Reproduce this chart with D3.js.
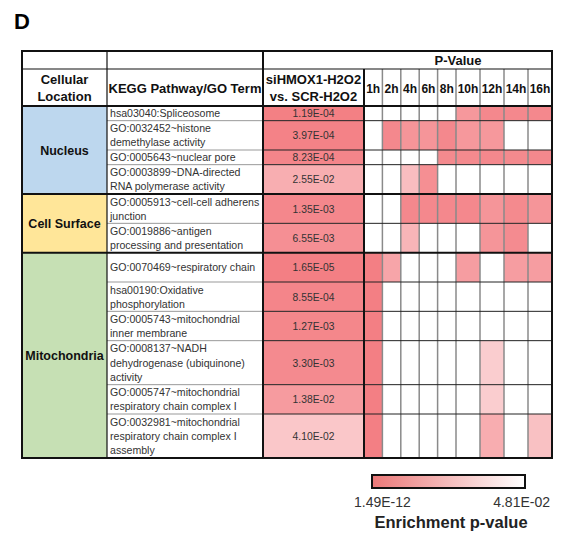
<!DOCTYPE html>
<html><head><meta charset="utf-8">
<script src="https://cdn.jsdelivr.net/npm/d3@7"></script>
<style>body{margin:0;background:#fff}svg{display:block;font-family:"Liberation Sans",Arial,sans-serif}</style>
</head><body><svg id="c" width="561" height="533"></svg>
<script>
// ---------- data ----------
const locations = ["Nucleus", "Cell Surface", "Mitochondria"];
const locationRows = [4, 2, 6];
const timePoints = ["1h","2h","4h","6h","8h","10h","12h","14h","16h"];
const terms = [
  ["hsa03040:Spliceosome"],
  ["GO:0032452~histone","demethylase activity"],
  ["GO:0005643~nuclear pore"],
  ["GO:0003899~DNA-directed","RNA polymerase activity"],
  ["GO:0005913~cell-cell adherens","junction"],
  ["GO:0019886~antigen","processing and presentation"],
  ["GO:0070469~respiratory chain"],
  ["hsa00190:Oxidative","phosphorylation"],
  ["GO:0005743~mitochondrial","inner membrane"],
  ["GO:0008137~NADH","dehydrogenase (ubiquinone)","activity"],
  ["GO:0005747~mitochondrial","respiratory chain complex I"],
  ["GO:0032981~mitochondrial","respiratory chain complex I","assembly"]
];
const siPValues = [1.19e-4, 3.97e-4, 8.23e-4, 2.55e-2, 1.35e-3, 6.55e-3, 1.65e-5, 8.55e-4, 1.27e-3, 3.30e-3, 1.38e-2, 4.10e-2];
const siLabels = ["1.19E-04","3.97E-04","8.23E-04","2.55E-02","1.35E-03","6.55E-03","1.65E-05","8.55E-04","1.27E-03","3.30E-03","1.38E-02","4.10E-02"];
// estimated p-values per time point (null = not enriched / white)
const timePValues = [
  [null,null,null,null,null,0.012,0.002,0.002,0.002],
  [null,0.002,0.010,0.010,0.002,0.012,0.012,null,null],
  [null,null,null,null,0.003,0.003,0.002,0.003,0.002],
  [null,null,0.035,0.006,null,null,null,null,null],
  [null,null,0.002,0.002,0.002,0.002,0.010,0.003,0.010],
  [null,null,0.030,null,null,null,0.010,0.004,null],
  [1e-8,0.020,null,null,null,0.015,null,0.015,0.015],
  [1e-9,null,null,null,null,null,null,null,null],
  [1e-8,null,null,null,null,null,null,null,null],
  [1e-7,null,null,null,null,null,0.045,null,null],
  [1e-7,null,null,null,null,null,0.045,null,null],
  [1e-6,null,null,null,null,null,0.025,null,0.037]
];
const legendMin = 1.49e-12, legendMax = 4.81e-2;
const legendLabels = ["1.49E-12","4.81E-02"];

// ---------- layout ----------
const svg = d3.select("#c");
const locColors = ["#bdd7ee","#ffe699","#c6e0b4"];
const rowUnits = [1,2,1,2,2,2,2,2,2,3,2,3];
const X0 = 22, X1 = 107, X2 = 263, X3 = 364;
const Y0 = 51, Y1 = 69, Y2 = 106, YEnd = 458;

const dark = "#f37c81";
const tScale = d3.scaleLinear().domain([legendMin, 1e-3, legendMax]).range([0.02, 0.08, 0.66]).clamp(true);
const mix = d3.interpolateRgb(dark, "#ffffff");
const color = p => p == null ? "#ffffff" : mix(tScale(p));

// time column edges
const tw = timePoints.map(t => t.length === 2 ? 18.4 : 24);
const tEdges = [X3]; tw.forEach(w => tEdges.push(tEdges[tEdges.length-1] + w));
const XEnd = tEdges[tEdges.length-1];

// row edges
const totalUnits = d3.sum(rowUnits);
const yU = d3.scaleLinear().domain([0,totalUnits]).range([Y2, YEnd]);
const rEdges = [0]; rowUnits.forEach(u => rEdges.push(rEdges[rEdges.length-1]+u));
const rowY = rEdges.map(e => yU(e));

// location section edges
const lEdges = [0]; locationRows.forEach(n => lEdges.push(lEdges[lEdges.length-1]+n));

const g = svg.append("g");

// location cells
locations.forEach((loc,i)=>{
  const ya = rowY[lEdges[i]], yb = rowY[lEdges[i+1]];
  g.append("rect").attr("x",X0).attr("y",ya).attr("width",X1-X0).attr("height",yb-ya).attr("fill",locColors[i]);
  g.append("text").attr("x",(X0+X1)/2).attr("y",(ya+yb)/2+4.5).attr("text-anchor","middle")
   .attr("font-weight","bold").attr("font-size",12.5).attr("fill","#111").text(loc);
});

// term cells and p cells
terms.forEach((lines,i)=>{
  const ya = rowY[i], yb = rowY[i+1], cy=(ya+yb)/2;
  const lh = 14.3;
  lines.forEach((l,j)=>{
    g.append("text").attr("x",X1+3).attr("y",cy + (j-(lines.length-1)/2)*lh + 4)
     .attr("font-size",10.6).attr("fill","#333").text(l);
  });
  g.append("rect").attr("x",X2).attr("y",ya).attr("width",X3-X2).attr("height",yb-ya).attr("fill",color(siPValues[i]));
  g.append("text").attr("x",(X2+X3)/2).attr("y",cy+4).attr("text-anchor","middle")
   .attr("font-size",10.3).attr("fill","#333").text(siLabels[i]);
  timePValues[i].forEach((p,k)=>{
    g.append("rect").attr("x",tEdges[k]).attr("y",ya).attr("width",tEdges[k+1]-tEdges[k]).attr("height",yb-ya).attr("fill",color(p));
  });
});

// header texts
const hdr = (x,y,t,fs)=>g.append("text").attr("x",x).attr("y",y).attr("text-anchor","middle")
  .attr("font-weight","bold").attr("font-size",fs||13).attr("fill","#111").text(t);
hdr((X3+XEnd)/2, 64.5, "P-Value");
hdr((X0+X1)/2, 84, "Cellular"); hdr((X0+X1)/2, 101, "Location");
hdr((X1+X2)/2, 92.5, "KEGG Pathway/GO Term");
hdr((X2+X3)/2, 84, "siHMOX1-H2O2"); hdr((X2+X3)/2, 101, "vs. SCR-H2O2");
timePoints.forEach((t,k)=>hdr((tEdges[k]+tEdges[k+1])/2, 92.5, t, 12));

// grid lines
const line=(x1,y1,x2,y2,c,w)=>g.append("line").attr("x1",x1).attr("y1",y1).attr("x2",x2).attr("y2",y2).attr("stroke",c).attr("stroke-width",w);
for(let k=1;k<tEdges.length-1;k++) line(tEdges[k],Y1,tEdges[k],YEnd,"#8a8a8a",1.5);
for(let i=1;i<terms.length;i++){
  if(lEdges.includes(i)) continue;
  line(X1,rowY[i],X2,rowY[i],"#999",1);
  line(X2,rowY[i],XEnd,rowY[i],"#222",1);
}
lEdges.slice(1,-1).forEach(e=>line(X0,rowY[e],XEnd,rowY[e],"#111",2));
line(X0,Y1,XEnd,Y1,"#111",1.2);
line(X0,Y2,XEnd,Y2,"#111",2);
line(X1,Y0,X1,YEnd,"#111",1.2);
line(X2,Y0,X2,YEnd,"#111",2);
line(X3,Y1,X3,YEnd,"#111",2);
g.append("rect").attr("x",X0).attr("y",Y0).attr("width",XEnd-X0).attr("height",YEnd-Y0)
 .attr("fill","none").attr("stroke","#111").attr("stroke-width",2);

// panel letter
svg.append("text").attr("x",14).attr("y",29).attr("font-weight","bold").attr("font-size",22).attr("fill","#000").text("D");

// legend
const defs = svg.append("defs");
const grad = defs.append("linearGradient").attr("id","lg");
d3.range(0,1.0001,0.1).forEach(s=>{
  grad.append("stop").attr("offset",s).attr("stop-color",d3.interpolateRgb("#eb7878","#ffffff")(s));
});
const lx = d3.scaleLinear().domain([legendMin,legendMax]).range([372,525]);
svg.append("rect").attr("x",lx(legendMin)).attr("y",475).attr("width",lx(legendMax)-lx(legendMin)).attr("height",13)
  .attr("fill","url(#lg)").attr("stroke","#111").attr("stroke-width",2);
svg.append("text").attr("x",354).attr("y",507).attr("font-size",14).attr("fill","#333").text(legendLabels[0]);
svg.append("text").attr("x",550).attr("y",507).attr("text-anchor","end").attr("font-size",14).attr("fill","#333").text(legendLabels[1]);
svg.append("text").attr("x",451).attr("y",528).attr("text-anchor","middle").attr("font-weight","bold").attr("font-size",16.5).attr("fill","#222").text("Enrichment p-value");
</script></body></html>
